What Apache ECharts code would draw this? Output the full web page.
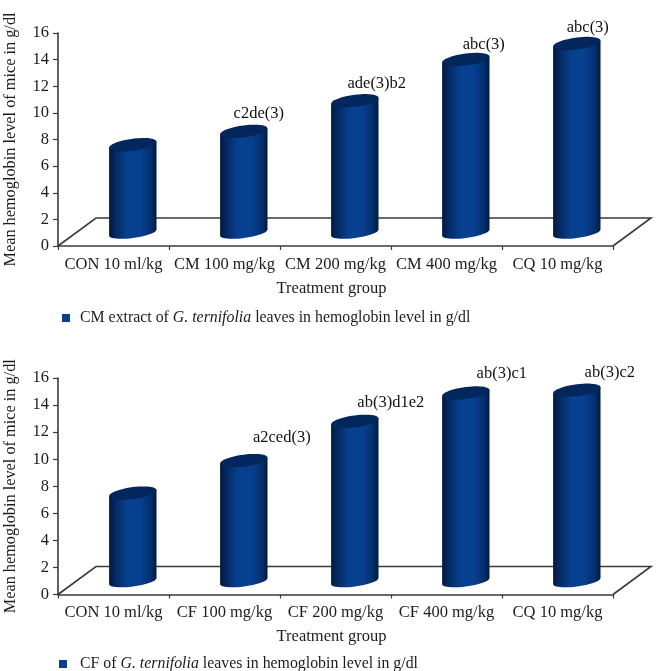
<!DOCTYPE html>
<html><head><meta charset="utf-8">
<style>html,body{margin:0;padding:0;background:#fff}#c{width:656px;height:671px}</style>
<script src="https://cdn.jsdelivr.net/npm/echarts@6/dist/echarts.min.js"></script>
</head><body><div id="c"></div>
<script>
const categoriesTop = ['CON 10 ml/kg','CM 100 mg/kg','CM 200 mg/kg','CM 400 mg/kg','CQ 10 mg/kg'];
const valuesTop = [6.6,7.6,9.9,13.0,14.2];
const labelsTop = ['','c2de(3)','ade(3)b2','abc(3)','abc(3)'];
const categoriesBottom = ['CON 10 ml/kg','CF 100 mg/kg','CF 200 mg/kg','CF 400 mg/kg','CQ 10 mg/kg'];
const valuesBottom = [6.5,8.9,11.8,13.9,14.1];
const labelsBottom = ['','a2ced(3)','ab(3)d1e2','ab(3)c1','ab(3)c2'];
const yTicks = [0,2,4,6,8,10,12,14,16];
const nameTop = 'CM extract of G. ternifolia leaves in hemoglobin level in g/dl';
const nameBottom = 'CF of G. ternifolia leaves in hemoglobin level in g/dl';

const FONT = '"Liberation Serif"';
const INK = '#1c1c1c';
const LINE = '#3a3a3a';
const DX = 19.3, BACK_X = 38, BACK_Y = 28;
const nudgeTop = [[0,0],[15,-18],[22,-17],[18,-15],[11,-16]];
const nudgeBottom = [[0,0],[38,-23],[36,-19],[36,-19],[33,-18]];

function cylinder(params, api, labels, nudge) {
  const cat = api.value(0), v = api.value(1);
  const top = api.coord([cat, v]);
  const base = api.coord([cat, 0]);
  const cx = base[0] + DX;
  const halfW = 23.7, ry = 6, tilt = -3;
  const depthY = BACK_Y * 0.48;
  const yT = top[1] - depthY, yB = base[1] - depthY;
  const grad = new echarts.graphic.LinearGradient(0,0,1,0,[
    {offset:0,color:'#021a3d'},{offset:0.14,color:'#042a63'},{offset:0.38,color:'#07408f'},
    {offset:0.66,color:'#07408f'},{offset:0.88,color:'#052f6e'},{offset:1,color:'#021a3d'}]);
  const body = [];
  const steps = 24;
  for (let i=0;i<=steps;i++){const a=Math.PI*i/steps;
    body.push([cx-halfW*Math.cos(a), yT-tilt*Math.cos(a)]);}
  for (let i=0;i<=steps;i++){const a=Math.PI*i/steps;
    body.push([cx+halfW*Math.cos(a), yB+tilt*Math.cos(a)+5.5*Math.sin(a)]);}
  const lid = [];
  for (let i=0;i<=48;i++){const a=2*Math.PI*i/48;
    lid.push([cx+halfW*Math.cos(a), yT+tilt*Math.cos(a)+ry*Math.sin(a)]);}
  const children = [
    {type:'polygon',shape:{points:body},style:{fill:grad}},
    {type:'polygon',shape:{points:lid},style:{fill:'#03265c'}}
  ];
  const i = params.dataIndex;
  if (labels[i]) children.push({type:'text',style:{
    x:cx+nudge[i][0],y:yT+nudge[i][1],text:labels[i],align:'center',verticalAlign:'middle',
    font:'16.5px '+FONT,fill:'#111'}});
  return {type:'group',children};
}
function floor(params) {
  const g = params.coordSys, y = g.y + g.height, x0 = g.x, x1 = g.x + g.width;
  return {type:'polyline',shape:{points:[[x0,y],[x0+BACK_X,y-BACK_Y],[x1+BACK_X,y-BACK_Y],[x1,y]]},
    style:{fill:'none',stroke:LINE,lineWidth:1.6}};
}
function axisX(gi,cats){return {gridIndex:gi,type:'category',data:cats,boundaryGap:true,
  axisLine:{lineStyle:{color:LINE,width:1.6}},axisTick:{show:true,length:4,lineStyle:{color:LINE,width:1.2}},
  axisLabel:{interval:0,color:INK,fontFamily:FONT,fontSize:16.5,margin:10},
  name:'Treatment group',nameLocation:'middle',nameGap:34,
  nameTextStyle:{color:INK,fontFamily:FONT,fontSize:16.5,padding:[0,8,0,0]}};}
function axisY(gi){return {gridIndex:gi,type:'value',min:yTicks[0],max:yTicks[yTicks.length-1],interval:2,
  splitLine:{show:false},axisLine:{show:true,lineStyle:{color:LINE,width:1.6}},axisTick:{show:true,length:5,lineStyle:{color:LINE,width:1.2}},
  axisLabel:{color:INK,fontFamily:FONT,fontSize:16.5,margin:9},
  name:'Mean hemoglobin level of mice in g/dl',nameLocation:'middle',nameRotate:90,nameGap:39,
  nameTextStyle:{color:INK,fontFamily:FONT,fontSize:16.3}};}
function legend(name,left,top,gap){return {data:[{name,icon:'rect',itemStyle:{color:'#07408f'}}],left,top,itemWidth:8,itemHeight:8,padding:0,
  formatter:n=>{const p=n.split('G. ternifolia');return '{s|}{a|'+p[0]+'}{b|G. ternifolia}{a|'+p[1]+'}';},
  textStyle:{rich:{s:{width:gap},a:{fontFamily:FONT,fontSize:15.85,color:INK},b:{fontFamily:FONT,fontSize:15.85,fontStyle:'italic',color:INK}}}};}
const chart = echarts.init(document.getElementById('c'),null,{renderer:'canvas'});
chart.setOption({
  animation:false,backgroundColor:'#fff',
  grid:[{left:58,top:33,width:555,height:213,outerBoundsMode:'none',containLabel:false},
        {left:58,top:378,width:555,height:216.5,outerBoundsMode:'none',containLabel:false}],
  xAxis:[axisX(0,categoriesTop),axisX(1,categoriesBottom)],
  yAxis:[axisY(0),axisY(1)],
  legend:[legend(nameTop,62,310,5),legend(nameBottom,59,656,8)],
  series:[
    {type:'custom',name:'floorTop',coordinateSystem:'cartesian2d',xAxisIndex:0,yAxisIndex:0,data:[[0,0]],renderItem:floor,z:1,silent:true},
    {type:'custom',name:nameTop,xAxisIndex:0,yAxisIndex:0,itemStyle:{color:'#07408f'},z:2,
      data:valuesTop.map((v,i)=>[i,v]),encode:{x:0,y:1},renderItem:(p,a)=>cylinder(p,a,labelsTop,nudgeTop)},
    {type:'custom',name:'floorBottom',coordinateSystem:'cartesian2d',xAxisIndex:1,yAxisIndex:1,data:[[0,0]],renderItem:floor,z:1,silent:true},
    {type:'custom',name:nameBottom,xAxisIndex:1,yAxisIndex:1,itemStyle:{color:'#07408f'},z:2,
      data:valuesBottom.map((v,i)=>[i,v]),encode:{x:0,y:1},renderItem:(p,a)=>cylinder(p,a,labelsBottom,nudgeBottom)}
  ]
});
</script></body></html>
